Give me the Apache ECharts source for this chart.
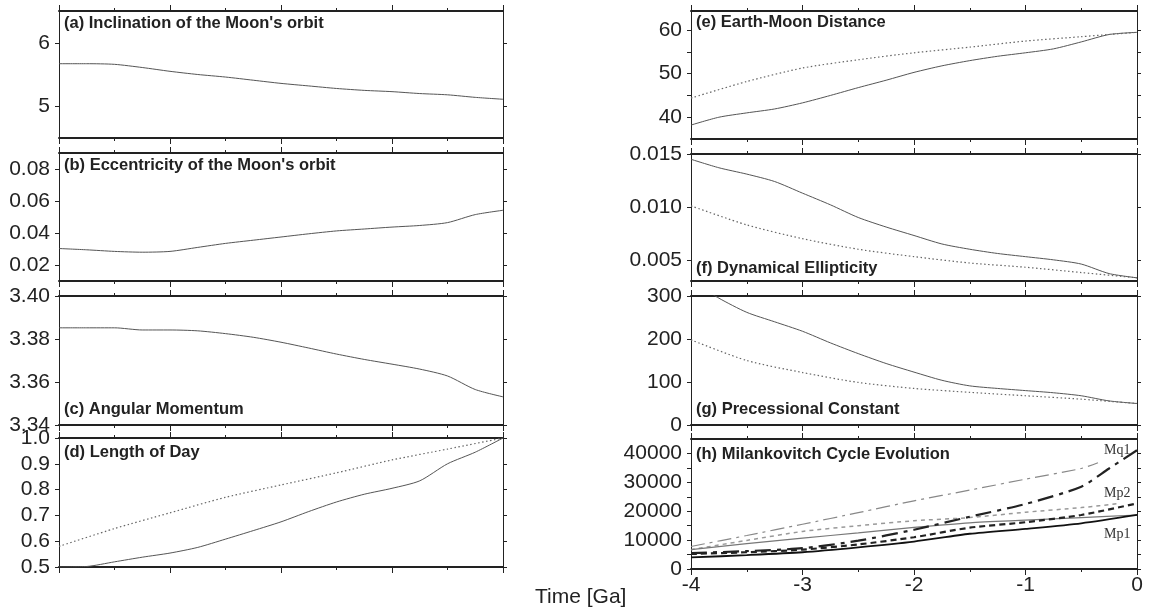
<!DOCTYPE html>
<html>
<head>
<meta charset="utf-8">
<script src="https://cdn.jsdelivr.net/npm/echarts@6/dist/echarts.min.js"></script>
<style>
html,body{margin:0;padding:0;background:#fff;}
#chart{width:1153px;height:612px;}
</style>
</head>
<body>
<div id="chart"></div>
<script>
// ---------- DATA ----------
const T4 = [-4,-3.75,-3.5,-3.25,-3,-2.75,-2.5,-2.25,-2,-1.75,-1.5,-1.25,-1,-0.75,-0.5,-0.25,0];
const T2 = [-4,-3.5,-3,-2.5,-2,-1.5,-1,-0.5,0];

const inclination = [5.67,5.67,5.66,5.61,5.55,5.50,5.46,5.41,5.36,5.32,5.28,5.25,5.23,5.20,5.18,5.14,5.11];
const eccentricity = [0.0303,0.0295,0.0285,0.0280,0.0285,0.0310,0.0335,0.0355,0.0375,0.0395,0.0413,0.0425,0.0437,0.0447,0.0465,0.0515,0.0542];
const angMomentum = [3.3852,3.3852,3.3852,3.3842,3.3842,3.3838,3.3825,3.3808,3.3785,3.3758,3.3730,3.3705,3.3683,3.3660,3.3628,3.3565,3.3531];
const lodModel = [0.500,0.502,0.520,0.538,0.554,0.576,0.608,0.641,0.675,0.715,0.752,0.782,0.805,0.834,0.900,0.945,1.000];
const lodRef = [0.58,0.649,0.71,0.77,0.818,0.865,0.915,0.957,1.0];

const distModel = [38.2,40.0,41.0,41.9,43.3,45.0,46.8,48.5,50.3,51.8,53.0,54.0,54.8,55.7,57.3,59.0,59.5];
const distRef = [44.4,48.2,51.3,53.2,54.8,56.1,57.5,58.5,59.5];
const ellModel = [0.0145,0.0137,0.0131,0.0124,0.0113,0.0102,0.0090,0.0081,0.0073,0.0065,0.0060,0.0056,0.0053,0.0050,0.0046,0.0037,0.0033];
const ellRef = [0.0101,0.0083,0.0070,0.0060,0.0053,0.0047,0.0043,0.0038,0.0033];
const precModel = [335,295,262,240,218,191,166,143,123,104,91,85,80,75,68,56,50];
const precRef = [198,150,122,99,85,76,68,60,50];

// panel h (Milankovitch cycles)
const hGreyDashDotT = [-4,-3.5,-3,-2.5,-2,-1.5,-1,-0.5,-0.35];
const hGreyDashDot  = [7800,11600,15500,19500,23600,27300,31100,34800,36800];
const hGreyDashT = [-4,-3.5,-3,-2.5,-2,-1.5,-1,-0.5,-0.15];
const hGreyDash  = [6700,9900,13000,15000,16700,17800,19650,21250,22700];
const hGreySolid = [6700,8800,10700,12500,14400,16000,16900,17800,18700];
const hBlackDashDotT = [-4,-3.5,-3,-2.5,-2,-1.5,-1,-0.5,-0.25,0];
const hBlackDashDot  = [5500,6200,7200,9800,13600,18100,22500,28500,34800,41100];
const hBlackDash  = [5200,5800,6700,8500,11000,14300,16200,18700,22700];
const hBlackSolid = [4000,4800,5800,7500,9500,12200,13900,15800,18700];

// tick values
const xTicks = [-4,-3,-2,-1,0];
const ticksA = [5,6];
const ticksB = [0.02,0.04,0.06,0.08];
const ticksC = [3.34,3.36,3.38,3.40];
const ticksD = [0.5,0.6,0.7,0.8,0.9,1.0];
const ticksE = [40,50,60];
const minorE = [40,45,50,55,60];
const ticksF = [0.005,0.010,0.015];
const ticksG = [0,100,200,300];
const ticksH = [0,10000,20000,30000,40000];
const minorH = [0,5000,10000,15000,20000,25000,30000,35000,40000];

const titles = ["(a) Inclination of the Moon's orbit","(b) Eccentricity of the Moon's orbit","(c) Angular Momentum","(d) Length of Day",
                "(e) Earth-Moon Distance","(f) Dynamical Ellipticity","(g) Precessional Constant","(h) Milankovitch Cycle Evolution"];
const curveLabels = ["Mq1","Mp2","Mp1"];
const xTitle = "Time [Ga]";

// ---------- LAYOUT ----------
const pair = (xs, ys) => xs.map((x,i)=>[x, ys[i]]);
const FONT = "'Liberation Sans', Arial, sans-serif";
const INK = '#222';

const panels = [
  {left:59, width:444, top:11, height:127, min:4.5, max:6.5, labels:ticksA, ticks:ticksA, dec:null, tTop:24},
  {left:59, width:444, top:153, height:128, min:0.01, max:0.09, labels:ticksB, ticks:ticksB, dec:2, tTop:166},
  {left:59, width:444, top:296, height:129, min:3.34, max:3.40, labels:ticksC, ticks:ticksC, dec:2, tTop:410},
  {left:59, width:444, top:438, height:129, min:0.5, max:1.0, labels:ticksD, ticks:ticksD, dec:1, tTop:453},
  {left:691, width:446, top:11, height:128, min:35, max:64.4, labels:ticksE, ticks:minorE, dec:null, tTop:23},
  {left:691, width:446, top:154, height:127, min:0.003, max:0.015, labels:ticksF, ticks:ticksF, dec:3, tTop:269},
  {left:691, width:446, top:296, height:129, min:0, max:300, labels:ticksG, ticks:ticksG, dec:null, tTop:410},
  {left:691, width:446, top:439, height:130, min:0, max:45000, labels:ticksH, ticks:minorH, dec:null, tTop:455}
];

const grid = [], xAxis = [], yAxis = [], graphic = [];
panels.forEach((p, i) => {
  grid.push({left:p.left, top:p.top, width:p.width, height:p.height, show:false, containLabel:false});
  const showX = (i === 7);
  ['bottom','top'].forEach(pos => {
    xAxis.push({
      type:'value', gridIndex:i, position:pos, min:-4, max:0, interval:1,
      axisLine:{show:true, onZero:false, lineStyle:{color:INK, width:2}},
      axisTick:{show:true, inside:false, length:6, lineStyle:{color:INK, width:1}},
      minorTick:{show:true, splitNumber:2, length:3, lineStyle:{color:INK, width:1}},
      splitLine:{show:false}, minorSplitLine:{show:false},
      axisLabel:{show: showX && pos==='bottom', margin:6, color:INK, fontSize:21, fontFamily:FONT,
                 customValues: xTicks}
    });
  });
  ['left','right'].forEach(pos => {
    yAxis.push({
      type:'value', gridIndex:i, position:pos, min:p.min, max:p.max,
      axisLine:{show:true, onZero:false, lineStyle:{color:INK, width:1}},
      axisTick:{show:true, inside:false, length:4, customValues:p.ticks, lineStyle:{color:INK, width:1}},
      splitLine:{show:false},
      axisLabel:{show: pos==='left', margin:9, color:INK, fontSize:21, fontFamily:FONT,
                 customValues:p.labels,
                 formatter: v => p.dec===null ? String(Math.round(v)) : Number(v).toFixed(p.dec)}
    });
  });
  graphic.push({type:'text', left:p.left+5, top:p.tTop-9, silent:true,
    style:{text:titles[i], fill:INK, font:'bold 16.5px '+FONT}});
});

const series = [];
function addLine(panel, data, style, z) {
  series.push({type:'line', xAxisIndex:panel*2, yAxisIndex:panel*2, data:data, showSymbol:false,
    symbol:'none', smooth:0.25, lineStyle:style, z: z || 2, clip:true, animation:false});
}
const solidGrey = {color:'#555', width:1};
const dotGrey = {color:'#666', width:1.2, type:[1.5,2.5]};

addLine(0, pair(T4, inclination), solidGrey);
addLine(1, pair(T4, eccentricity), solidGrey);
addLine(2, pair(T4, angMomentum), solidGrey);
addLine(3, pair(T4, lodModel), solidGrey);
addLine(3, pair(T2, lodRef), dotGrey);
addLine(4, pair(T4, distModel), solidGrey);
addLine(4, pair(T2, distRef), dotGrey);
addLine(5, pair(T4, ellModel), solidGrey);
addLine(5, pair(T2, ellRef), dotGrey);
addLine(6, pair(T4, precModel), solidGrey);
addLine(6, pair(T2, precRef), dotGrey);

addLine(7, pair(hGreyDashDotT, hGreyDashDot), {color:'#888', width:1.2, type:[14,5,3,5]});
addLine(7, pair(hGreyDashT, hGreyDash), {color:'#999', width:1.5, type:[4,4]});
addLine(7, pair(T2, hGreySolid), {color:'#777', width:1.2});
addLine(7, pair(hBlackDashDotT, hBlackDashDot), {color:'#222', width:2.2, type:[16,6,4,6]}, 3);
addLine(7, pair(T2, hBlackDash), {color:'#222', width:2.2, type:[6,4]}, 3);
addLine(7, pair(T2, hBlackSolid), {color:'#111', width:1.8}, 3);

const lblY = [451, 494, 535];
curveLabels.forEach((t, k) => {
  graphic.push({type:'text', left:1104, top:lblY[k]-8, silent:true,
    style:{text:t, fill:'#333', font:"14px 'Liberation Serif', 'Times New Roman', serif"}});
});
graphic.push({type:'text', left:535, top:587, silent:true,
  style:{text:xTitle, fill:INK, font:'21px '+FONT}});

const chart = echarts.init(document.getElementById('chart'), null, {renderer:'canvas'});
chart.setOption({backgroundColor:'#fff', animation:false, grid, xAxis, yAxis, series, graphic});
</script>
</body>
</html>
